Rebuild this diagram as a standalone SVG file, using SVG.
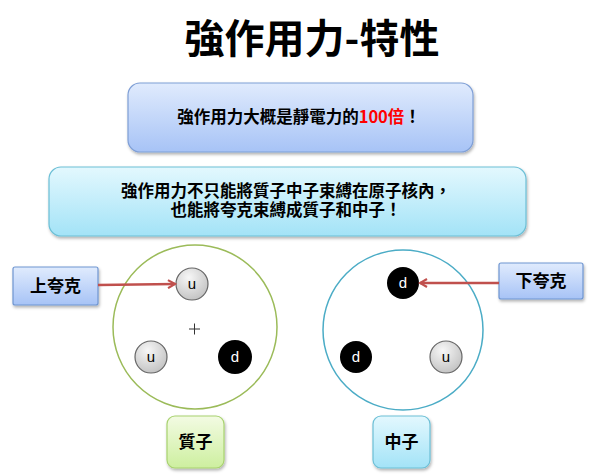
<svg xmlns="http://www.w3.org/2000/svg" width="600" height="476" viewBox="0 0 600 476">
<defs>
<linearGradient id="gBlue" x1="0" y1="0" x2="0" y2="1"><stop offset="0" stop-color="#e0ebfd"/><stop offset="1" stop-color="#a7c3f6"/></linearGradient>
<linearGradient id="gCyan" x1="0" y1="0" x2="0" y2="1"><stop offset="0" stop-color="#e3f8fe"/><stop offset="1" stop-color="#a3e3f7"/></linearGradient>
<linearGradient id="gGreen" x1="0" y1="0" x2="0" y2="1"><stop offset="0" stop-color="#f3fbe3"/><stop offset="1" stop-color="#cdef9f"/></linearGradient>
<radialGradient id="gQuark" cx="0.4" cy="0.3" r="0.8"><stop offset="0" stop-color="#f7f7f7"/><stop offset="1" stop-color="#bdbdbd"/></radialGradient>
<filter id="sh" x="-10%" y="-10%" width="130%" height="140%"><feDropShadow dx="1" dy="2" stdDeviation="1.5" flood-color="#000" flood-opacity="0.3"/></filter>
<marker id="arr" markerWidth="10" markerHeight="10" refX="8" refY="5" orient="auto" markerUnits="userSpaceOnUse"><path d="M1,1 L8,5 L1,9" fill="none" stroke="#c0504d" stroke-width="2.2"/></marker>
</defs>
<style>
.cjk{font-family:"Noto Sans CJK TC","Noto Sans CJK SC",sans-serif;font-weight:bold;fill:#000}
.q{font-family:"Liberation Sans",Arial,sans-serif;font-size:15px;text-anchor:middle}
.qu{fill:url(#gQuark);stroke:#666;stroke-width:1.2}
.qd{fill:#000}
.conn{stroke:#c0504d;stroke-width:2.5;fill:none;marker-end:url(#arr)}
</style>
<text id="title" class="cjk" x="312" y="53" font-size="40" text-anchor="middle">強作用力-特性</text>
<g id="box1">
<rect x="128" y="83" width="345" height="69" rx="12" fill="url(#gBlue)" stroke="#7f9fd6" stroke-width="1.2" filter="url(#sh)"/>
<text class="cjk" x="299" y="123" font-size="16.5" text-anchor="middle">強作用力大概是靜電力的<tspan fill="#ff0000">100倍</tspan>！</text>
</g>
<g id="box2">
<rect x="49" y="167" width="477" height="69" rx="12" fill="url(#gCyan)" stroke="#6cbfd6" stroke-width="1.2" filter="url(#sh)"/>
<text class="cjk" x="286" y="197" font-size="16.5" text-anchor="middle">強作用力不只能將質子中子束縛在原子核內，</text>
<text class="cjk" x="286" y="216" font-size="16.5" text-anchor="middle">也能將夸克束縛成質子和中子！</text>
</g>
<g id="proton">
<circle cx="195" cy="327" r="82" fill="#fff" stroke="#9bbb59" stroke-width="1.5"/>
<path d="M189,329 H200 M194.5,323.5 V334.5" stroke="#333" stroke-width="1"/>
</g>
<g id="neutron">
<circle cx="403" cy="330" r="80" fill="#fff" stroke="#4bacc6" stroke-width="1.5"/>
</g>
<g id="p-u1"><circle class="qu" cx="192" cy="284" r="16"/><text class="q" x="192" y="289">u</text></g>
<g id="p-u2"><circle class="qu" cx="151" cy="357" r="16"/><text class="q" x="151" y="362">u</text></g>
<g id="p-d"><circle class="qd" cx="235" cy="357" r="17"/><text class="q" x="235" y="362" fill="#fff">d</text></g>
<g id="n-d1"><circle class="qd" cx="403" cy="283" r="16"/><text class="q" x="403" y="288" fill="#fff">d</text></g>
<g id="n-d2"><circle class="qd" cx="356" cy="357" r="16"/><text class="q" x="356" y="362" fill="#fff">d</text></g>
<g id="n-u"><circle class="qu" cx="446" cy="357" r="16"/><text class="q" x="446" y="362">u</text></g>
<g id="up-label">
<rect x="13" y="267" width="85" height="38" rx="2" fill="url(#gBlue)" stroke="#6f95d1" stroke-width="1.2" filter="url(#sh)"/>
<text class="cjk" x="55.5" y="292" font-size="17" text-anchor="middle">上夸克</text>
</g>
<g id="down-label">
<rect x="499" y="263" width="84" height="36" rx="2" fill="url(#gBlue)" stroke="#6f95d1" stroke-width="1.2" filter="url(#sh)"/>
<text class="cjk" x="541" y="287" font-size="17" text-anchor="middle">下夸克</text>
</g>
<g id="proton-label">
<rect x="167" y="416" width="57" height="52" rx="8" fill="url(#gGreen)" stroke="#a8d26f" stroke-width="1.2" filter="url(#sh)"/>
<text class="cjk" x="195.5" y="448" font-size="17" text-anchor="middle">質子</text>
</g>
<g id="neutron-label">
<rect x="373" y="416" width="57" height="52" rx="8" fill="url(#gCyan)" stroke="#6cbfd6" stroke-width="1.2" filter="url(#sh)"/>
<text class="cjk" x="401.5" y="448" font-size="17" text-anchor="middle">中子</text>
</g>
<g id="connectors">
<line class="conn" x1="98" y1="285" x2="175" y2="284"/>
<line class="conn" x1="499" y1="283" x2="420" y2="283"/>
</g>
</svg>
